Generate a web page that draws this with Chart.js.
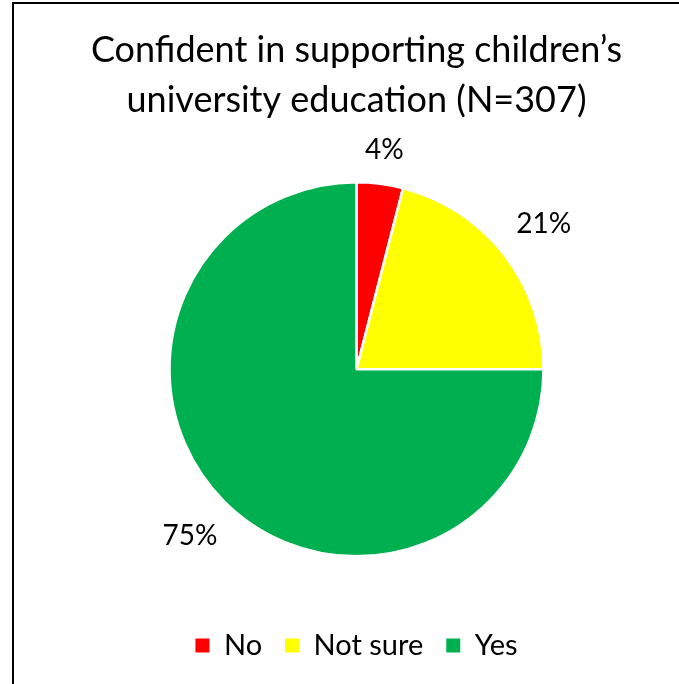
<!DOCTYPE html>
<html>
<head>
<meta charset="utf-8">
<script src="https://cdn.jsdelivr.net/npm/chart.js@4"></script>
<style>
  html, body { margin: 0; padding: 0; background: #fff; }
  #wrap { position: relative; width: 679px; height: 684px; }
  #wrap canvas { position: absolute; left: 0; top: 0; }
  #frame {
    position: absolute; left: 12px; top: 2px; right: 0; bottom: 0;
    border-left: 2px solid #000; border-top: 2px solid #000;
    pointer-events: none;
  }
</style>
</head>
<body>
<div id="wrap">
  <canvas id="chart" width="679" height="684"></canvas>
  <div id="frame"></div>
</div>
<script>
// Survey answers and their share of respondents (percent)
const categories = ['No', 'Not sure', 'Yes'];
const shares = [4, 21, 75];
const sliceColors = ['#FF0000', '#FFFF00', '#00B050'];
const titleLines = ['Confident in supporting children\u2019s', 'university education (N=307)'];

const FONT = 'Lato, "Open Sans", sans-serif';

// Percentage labels placed just outside each slice, along its mid-angle
const outsideLabels = {
  id: 'outsideLabels',
  afterDatasetsDraw(chart) {
    const ctx = chart.ctx;
    const meta = chart.getDatasetMeta(0);
    ctx.save();
    ctx.font = '28px ' + FONT;
    ctx.fillStyle = '#000';
    ctx.textAlign = 'center';
    ctx.textBaseline = 'middle';
    meta.data.forEach((arc, i) => {
      const p = arc.getProps(['x', 'y', 'startAngle', 'endAngle', 'outerRadius'], true);
      const mid = (p.startAngle + p.endAngle) / 2;
      const text = shares[i] + '%';
      const w = ctx.measureText(text).width;
      const h = 20;
      const cx = Math.cos(mid), cy = Math.sin(mid);
      const d = p.outerRadius + 22 + Math.abs(cx) * w / 2 + Math.abs(cy) * h / 2;
      ctx.fillText(text, p.x + cx * d, p.y + cy * d);
    });
    ctx.restore();
  }
};

new Chart(document.getElementById('chart'), {
  type: 'pie',
  data: {
    labels: categories,
    datasets: [{
      data: shares,
      backgroundColor: sliceColors,
      borderColor: '#FFFFFF',
      borderWidth: 2.5,
      radius: 187
    }]
  },
  options: {
    responsive: false,
    devicePixelRatio: 1,
    animation: false,
    layout: { padding: { left: 34, right: 0, top: 0, bottom: 14 } },
    plugins: {
      title: {
        display: true,
        text: titleLines,
        color: '#000',
        font: { family: FONT, size: 36, weight: 'normal', lineHeight: 1.37 },
        padding: { top: 26, bottom: 6 }
      },
      legend: {
        position: 'bottom',
        labels: {
          color: '#000',
          font: { family: FONT, size: 29 },
          boxWidth: 14,
          boxHeight: 14,
          padding: 23,
          generateLabels: () => categories.map((c, i) => ({
            text: c,
            fillStyle: sliceColors[i],
            strokeStyle: sliceColors[i],
            lineWidth: 0,
            hidden: false,
            index: i,
            fontColor: '#000'
          }))
        }
      },
      tooltip: { enabled: false }
    }
  },
  plugins: [outsideLabels]
});
</script>
</body>
</html>
